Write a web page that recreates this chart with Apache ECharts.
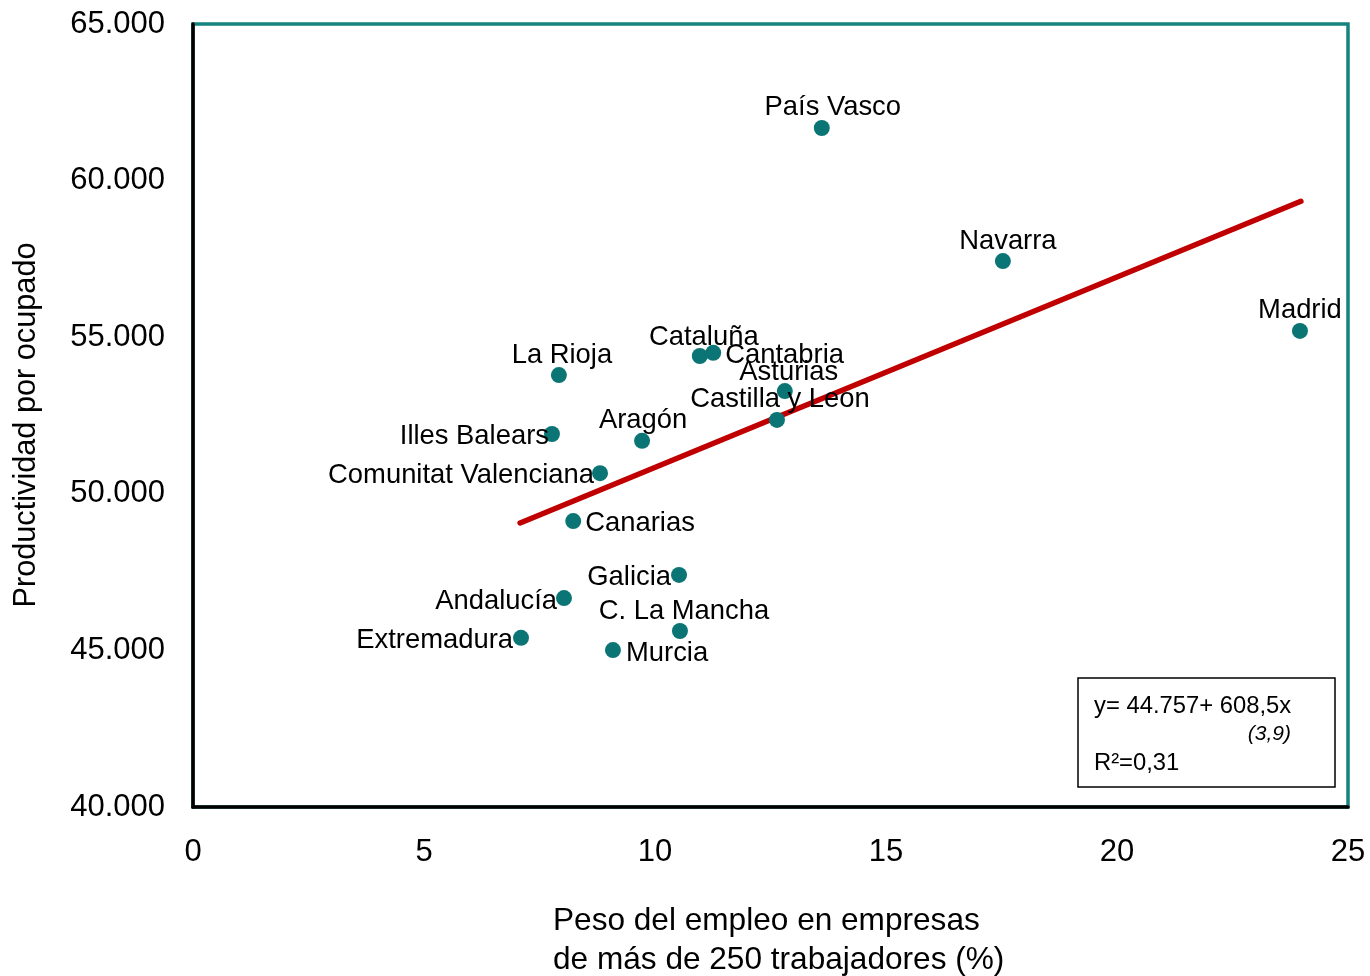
<!DOCTYPE html>
<html>
<head>
<meta charset="utf-8">
<script src="https://cdn.jsdelivr.net/npm/echarts@6/dist/echarts.min.js"></script>
<style>
html,body{margin:0;padding:0;background:#fff;}
#chart{width:1370px;height:976px;}
</style>
</head>
<body>
<div id="chart"></div>
<script>
// ---- data ----
var regions = ['País Vasco','Navarra','Madrid','Cataluña','Cantabria','Asturias','Castilla y Leon','La Rioja','Illes Balears','Aragón','Comunitat Valenciana','Canarias','Galicia','Andalucía','C. La Mancha','Extremadura','Murcia'];
var pesoEmpleo = [13.61, 17.53, 23.96, 10.97, 11.26, 12.81, 12.64, 7.92, 7.77, 9.72, 8.81, 8.23, 10.52, 8.03, 10.54, 7.10, 9.09];
var productividad = [61680, 57430, 55200, 54400, 54500, 53280, 52360, 53790, 51910, 51690, 50660, 49130, 47410, 46670, 45620, 45400, 45010];
var trendX = [7.08, 23.98];
var trendY = [49070, 59340];
var xTicks = [0, 5, 10, 15, 20, 25];
var yTicks = [40000, 45000, 50000, 55000, 60000, 65000];
var eqText = ['y= 44.757+ 608,5x', '(3,9)', 'R²=0,31'];
var xTitle = 'Peso del empleo en empresas\nde más de 250 trabajadores (%)';
var yTitle = 'Productividad por ocupado';

// ---- label layout (style, not data) ----
// [align, dx, dy] relative to point centre
var labelLayout = {
  'País Vasco': ['center', 11, -24],
  'Navarra': ['center', 5, -23],
  'Madrid': ['center', 0, -23],
  'Cataluña': ['center', 4, -22],
  'Cantabria': ['left', 12, 0],
  'Asturias': ['center', 4, -22],
  'Castilla y Leon': ['center', 3, -23],
  'La Rioja': ['center', 3, -23],
  'Illes Balears': ['right', -3, -1],
  'Aragón': ['center', 1, -23],
  'Comunitat Valenciana': ['right', -6, -1],
  'Canarias': ['left', 12, -1],
  'Galicia': ['right', -8, 0],
  'Andalucía': ['right', -7, 0],
  'C. La Mancha': ['center', 4, -23],
  'Extremadura': ['right', -8, 0],
  'Murcia': ['left', 13, 0]
};

var FONT = '"Liberation Sans", Arial, sans-serif';
var SYM = 16;
var DY_FIX = 3;

var scatterData = regions.map(function (name, i) {
  var l = labelLayout[name];
  return {
    name: name,
    value: [pesoEmpleo[i], productividad[i]],
    label: {
      position: [SYM / 2 + l[1], SYM / 2 + l[2] + DY_FIX],
      align: l[0],
      verticalAlign: 'middle'
    }
  };
});

function fmtThousands(v) {
  return String(v).replace(/\B(?=(\d{3})+(?!\d))/g, '.');
}

var chart = echarts.init(document.getElementById('chart'), null, {renderer: 'canvas'});
chart.setOption({
  animation: false,
  backgroundColor: '#ffffff',
  grid: {
    left: 193, top: 24, right: 22, bottom: 169,
    show: true, borderColor: '#16837f', borderWidth: 3.5, backgroundColor: 'transparent'
  },
  xAxis: {
    type: 'value', min: xTicks[0], max: xTicks[xTicks.length - 1], interval: 5,
    axisLine: {show: true, onZero: false, lineStyle: {color: '#000', width: 3.5}},
    axisTick: {show: false},
    splitLine: {show: false},
    axisLabel: {color: '#000', fontSize: 31, fontFamily: FONT, margin: 30}
  },
  yAxis: {
    type: 'value', min: yTicks[0], max: yTicks[yTicks.length - 1], interval: 5000,
    axisLine: {show: true, onZero: false, lineStyle: {color: '#000', width: 3.5}},
    axisTick: {show: false},
    splitLine: {show: false},
    axisLabel: {color: '#000', fontSize: 31, fontFamily: FONT, margin: 28, formatter: fmtThousands}
  },
  series: [
    {
      type: 'line',
      data: trendX.map(function (x, i) { return [x, trendY[i]]; }),
      showSymbol: false, symbol: 'none',
      lineStyle: {color: '#c00000', width: 5.5, cap: 'round'},
      z: 2, silent: true
    },
    {
      type: 'scatter',
      data: scatterData,
      symbol: 'circle', symbolSize: SYM,
      itemStyle: {color: '#0b7575', opacity: 1},
      label: {
        show: true, formatter: '{b}', color: '#000', opacity: 1, fontSize: 27.4, fontFamily: FONT
      },
      labelLayout: {moveOverlap: false, hideOverlap: false},
      z: 3
    }
  ],
  graphic: [
    {
      type: 'text', x: 27, y: 425, rotation: Math.PI / 2,
      style: {text: yTitle, fill: '#000', font: '30.7px ' + FONT, textAlign: 'center', textVerticalAlign: 'middle'}
    },
    {
      type: 'text', left: 553, top: 902,
      style: {text: xTitle, fill: '#000', font: '31.6px ' + FONT, lineHeight: 39, textAlign: 'left'}
    },
    {
      type: 'rect', shape: {x: 1078, y: 678, width: 257, height: 109},
      style: {fill: '#fff', stroke: '#000', lineWidth: 1.5}, z: 10
    },
    {
      type: 'text', x: 1094, y: 706, z: 11,
      style: {text: eqText[0], fill: '#000', font: '23.8px ' + FONT, textAlign: 'left', textVerticalAlign: 'middle'}
    },
    {
      type: 'text', x: 1291, y: 734, z: 11,
      style: {text: eqText[1], fill: '#000', font: 'italic 21px ' + FONT, textAlign: 'right', textVerticalAlign: 'middle'}
    },
    {
      type: 'text', x: 1094, y: 763, z: 11,
      style: {text: eqText[2], fill: '#000', font: '23.8px ' + FONT, textAlign: 'left', textVerticalAlign: 'middle'}
    }
  ]
});
</script>
</body>
</html>
